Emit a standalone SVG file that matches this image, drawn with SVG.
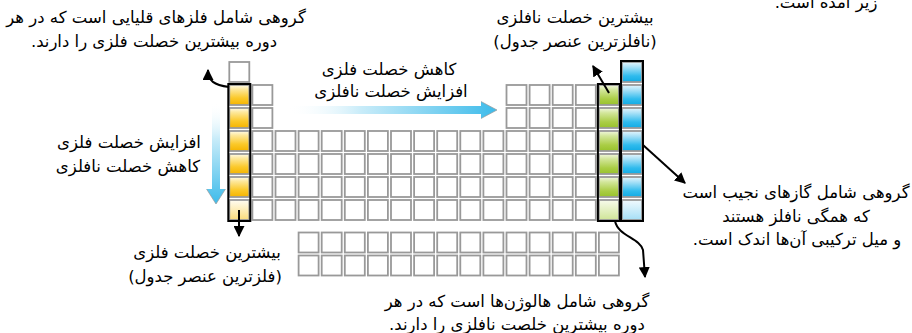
<svg xmlns="http://www.w3.org/2000/svg" xmlns:xlink="http://www.w3.org/1999/xlink" width="912" height="333" viewBox="0 0 912 333">
<style>
  .t { font-family: "DejaVu Sans", "Noto Sans", sans-serif; font-size: 16.5px; fill: #000; text-anchor: middle; direction: rtl; }
  .cell { fill: #fff; stroke: #999; stroke-width: 1.8; }
  .cc { stroke: #999; stroke-width: 1.8; }
  .outline { fill: none; stroke: #000; stroke-width: 2; }
  .conn { fill: none; stroke: #000; stroke-width: 2; }
</style>
<defs>
  <rect id="c" width="20" height="20" class="cell"/>
  <linearGradient id="gO" x1="0" y1="0" x2="0" y2="1">
    <stop offset="0" stop-color="#fffbea"/>
    <stop offset="0.2" stop-color="#fde9a0"/>
    <stop offset="0.65" stop-color="#fbc92a"/>
    <stop offset="1" stop-color="#f5b400"/>
  </linearGradient>
  <linearGradient id="gO7" x1="0" y1="0" x2="0" y2="1">
    <stop offset="0" stop-color="#fffdf3"/>
    <stop offset="1" stop-color="#fbdc7a"/>
  </linearGradient>
  <linearGradient id="gG" x1="0" y1="0" x2="0" y2="1">
    <stop offset="0" stop-color="#f1f7df"/>
    <stop offset="0.25" stop-color="#d2e69a"/>
    <stop offset="0.7" stop-color="#aacd45"/>
    <stop offset="1" stop-color="#98c22c"/>
  </linearGradient>
  <linearGradient id="gG7" x1="0" y1="0" x2="0" y2="1">
    <stop offset="0" stop-color="#f7fbec"/>
    <stop offset="1" stop-color="#cfe497"/>
  </linearGradient>
  <linearGradient id="gB" x1="0" y1="0" x2="0" y2="1">
    <stop offset="0" stop-color="#e6f6fd"/>
    <stop offset="0.25" stop-color="#a9e1f7"/>
    <stop offset="0.7" stop-color="#2fbbed"/>
    <stop offset="1" stop-color="#12abe4"/>
  </linearGradient>
  <linearGradient id="gB7" x1="0" y1="0" x2="0" y2="1">
    <stop offset="0" stop-color="#f1fafe"/>
    <stop offset="1" stop-color="#a5dff6"/>
  </linearGradient>
  <linearGradient id="gH" x1="0" y1="0" x2="1" y2="0">
    <stop offset="0" stop-color="#ffffff" stop-opacity="0"/>
    <stop offset="0.35" stop-color="#c9ecf9"/>
    <stop offset="1" stop-color="#3dbbea"/>
  </linearGradient>
  <linearGradient id="gV" x1="0" y1="0" x2="0" y2="1">
    <stop offset="0" stop-color="#ffffff" stop-opacity="0"/>
    <stop offset="0.35" stop-color="#c9ecf9"/>
    <stop offset="1" stop-color="#3dbbea"/>
  </linearGradient>
  <marker id="ah" viewBox="0 0 10 10" refX="9" refY="5" markerWidth="5.5" markerHeight="5.5" orient="auto" markerUnits="strokeWidth">
    <path d="M0,0 L10,5 L0,10 z" fill="#000"/>
  </marker>
</defs>

<rect width="912" height="333" fill="#fff"/>

<g id="table">
  <use href="#c" x="229.3" y="62"/>
  <use href="#c" x="252.4" y="85"/>
  <use href="#c" x="506.5" y="85"/><use href="#c" x="529.6" y="85"/><use href="#c" x="552.7" y="85"/><use href="#c" x="575.8" y="85"/>
  <use href="#c" x="252.4" y="108"/>
  <use href="#c" x="506.5" y="108"/><use href="#c" x="529.6" y="108"/><use href="#c" x="552.7" y="108"/><use href="#c" x="575.8" y="108"/>
  <g id="r4">
    <use href="#c" x="252.4" y="131"/><use href="#c" x="275.5" y="131"/><use href="#c" x="298.6" y="131"/><use href="#c" x="321.7" y="131"/><use href="#c" x="344.8" y="131"/><use href="#c" x="367.9" y="131"/><use href="#c" x="391" y="131"/><use href="#c" x="414.1" y="131"/><use href="#c" x="437.2" y="131"/><use href="#c" x="460.3" y="131"/><use href="#c" x="483.4" y="131"/><use href="#c" x="506.5" y="131"/><use href="#c" x="529.6" y="131"/><use href="#c" x="552.7" y="131"/><use href="#c" x="575.8" y="131"/>
  </g>
  <use href="#r4" y="23"/>
  <use href="#r4" y="46"/>
  <use href="#r4" y="69"/>
  <g id="f1">
    <use href="#c" x="298.6" y="232.5"/><use href="#c" x="321.7" y="232.5"/><use href="#c" x="344.8" y="232.5"/><use href="#c" x="367.9" y="232.5"/><use href="#c" x="391" y="232.5"/><use href="#c" x="414.1" y="232.5"/><use href="#c" x="437.2" y="232.5"/><use href="#c" x="460.3" y="232.5"/><use href="#c" x="483.4" y="232.5"/><use href="#c" x="506.5" y="232.5"/><use href="#c" x="529.6" y="232.5"/><use href="#c" x="552.7" y="232.5"/><use href="#c" x="575.8" y="232.5"/><use href="#c" x="598.9" y="232.5"/>
  </g>
  <use href="#f1" y="23"/>
</g>

<g id="alkali">
  <rect class="cc" x="229.3" y="85" width="20" height="20" fill="url(#gO)"/>
  <rect class="cc" x="229.3" y="108" width="20" height="20" fill="url(#gO)"/>
  <rect class="cc" x="229.3" y="131" width="20" height="20" fill="url(#gO)"/>
  <rect class="cc" x="229.3" y="154" width="20" height="20" fill="url(#gO)"/>
  <rect class="cc" x="229.3" y="177" width="20" height="20" fill="url(#gO)"/>
  <rect class="cc" x="229.3" y="200" width="20" height="20" fill="url(#gO7)"/>
  <rect class="outline" x="228.3" y="84" width="22" height="137"/>
</g>

<g id="halogens">
  <rect class="cc" x="598.9" y="85" width="20" height="20" fill="url(#gG)"/>
  <rect class="cc" x="598.9" y="108" width="20" height="20" fill="url(#gG)"/>
  <rect class="cc" x="598.9" y="131" width="20" height="20" fill="url(#gG)"/>
  <rect class="cc" x="598.9" y="154" width="20" height="20" fill="url(#gG)"/>
  <rect class="cc" x="598.9" y="177" width="20" height="20" fill="url(#gG)"/>
  <rect class="cc" x="598.9" y="200" width="20" height="20" fill="url(#gG7)"/>
  <rect class="outline" x="597.9" y="84" width="22" height="137"/>
</g>

<g id="noble">
  <rect class="cc" x="622" y="62" width="20" height="20" fill="url(#gB)"/>
  <rect class="cc" x="622" y="85" width="20" height="20" fill="url(#gB)"/>
  <rect class="cc" x="622" y="108" width="20" height="20" fill="url(#gB)"/>
  <rect class="cc" x="622" y="131" width="20" height="20" fill="url(#gB)"/>
  <rect class="cc" x="622" y="154" width="20" height="20" fill="url(#gB)"/>
  <rect class="cc" x="622" y="177" width="20" height="20" fill="url(#gB)"/>
  <rect class="cc" x="622" y="200" width="20" height="20" fill="url(#gB7)"/>
  <rect class="outline" x="621" y="61" width="22" height="160"/>
</g>

<g id="trend-arrows">
  <path d="M287,106 L481,106 L481,101.5 L497,110 L481,118.5 L481,114 L287,114 Z" fill="url(#gH)"/>
  <path d="M481,101.5 L497,110 L481,118.5" fill="none" stroke="#9a9a9a" stroke-width="1" opacity="0.7"/>
  <path d="M212,103 L220,103 L220,189 L225.5,189 L216,204 L206.5,189 L212,189 Z" fill="url(#gV)"/>
  <path d="M225.5,189 L216,204 L206.5,189" fill="none" stroke="#9a9a9a" stroke-width="1" opacity="0.7"/>
</g>

<g id="connectors">
  <path class="conn" d="M229,87 C214,85 208,81 208,70" marker-end="url(#ah)"/>
  <path class="conn" d="M239,210 L239,236" marker-end="url(#ah)"/>
  <path class="conn" d="M609,93 L593,66" marker-end="url(#ah)"/>
  <path class="conn" d="M643,145 L685,183" marker-end="url(#ah)"/>
  <path class="conn" d="M615,221 C618,236 640,238 643,250 L645,277" marker-end="url(#ah)"/>
</g>

<g id="label-alkali">
  <text class="t" x="156" y="23">گروهی شامل فلزهای قلیایی است که در هر</text>
  <text class="t" x="154" y="47">دوره بیشترین خصلت فلزی را دارند.</text>
</g>
<g id="label-top-right">
  <text class="t" x="826" y="8">زیر آمده است.</text>
</g>
<g id="label-max-nonmetal">
  <text class="t" x="575" y="23">بیشترین خصلت نافلزی</text>
  <text class="t" x="575" y="47">(نافلزترین عنصر جدول)</text>
</g>
<g id="label-period-trend">
  <text class="t" x="389" y="75">کاهش خصلت فلزی</text>
  <text class="t" x="391" y="97">افزایش خصلت نافلزی</text>
</g>
<g id="label-group-trend">
  <text class="t" x="129" y="148">افزایش خصلت فلزی</text>
  <text class="t" x="128" y="172">کاهش خصلت نافلزی</text>
</g>
<g id="label-max-metal">
  <text class="t" x="207" y="258">بیشترین خصلت فلزی</text>
  <text class="t" x="205" y="282">(فلزترین عنصر جدول)</text>
</g>
<g id="label-halogens">
  <text class="t" x="517" y="307">گروهی شامل هالوژن‌ها است که در هر</text>
  <text class="t" x="517" y="330">دوره بیشترین خلصت نافلزی را دارند.</text>
</g>
<g id="label-noble">
  <text class="t" x="796" y="198">گروهی شامل گازهای نجیب است</text>
  <text class="t" x="796" y="222">که همگی نافلز هستند</text>
  <text class="t" x="797" y="245">و میل ترکیبی آن‌ها اندک است.</text>
</g>
</svg>
